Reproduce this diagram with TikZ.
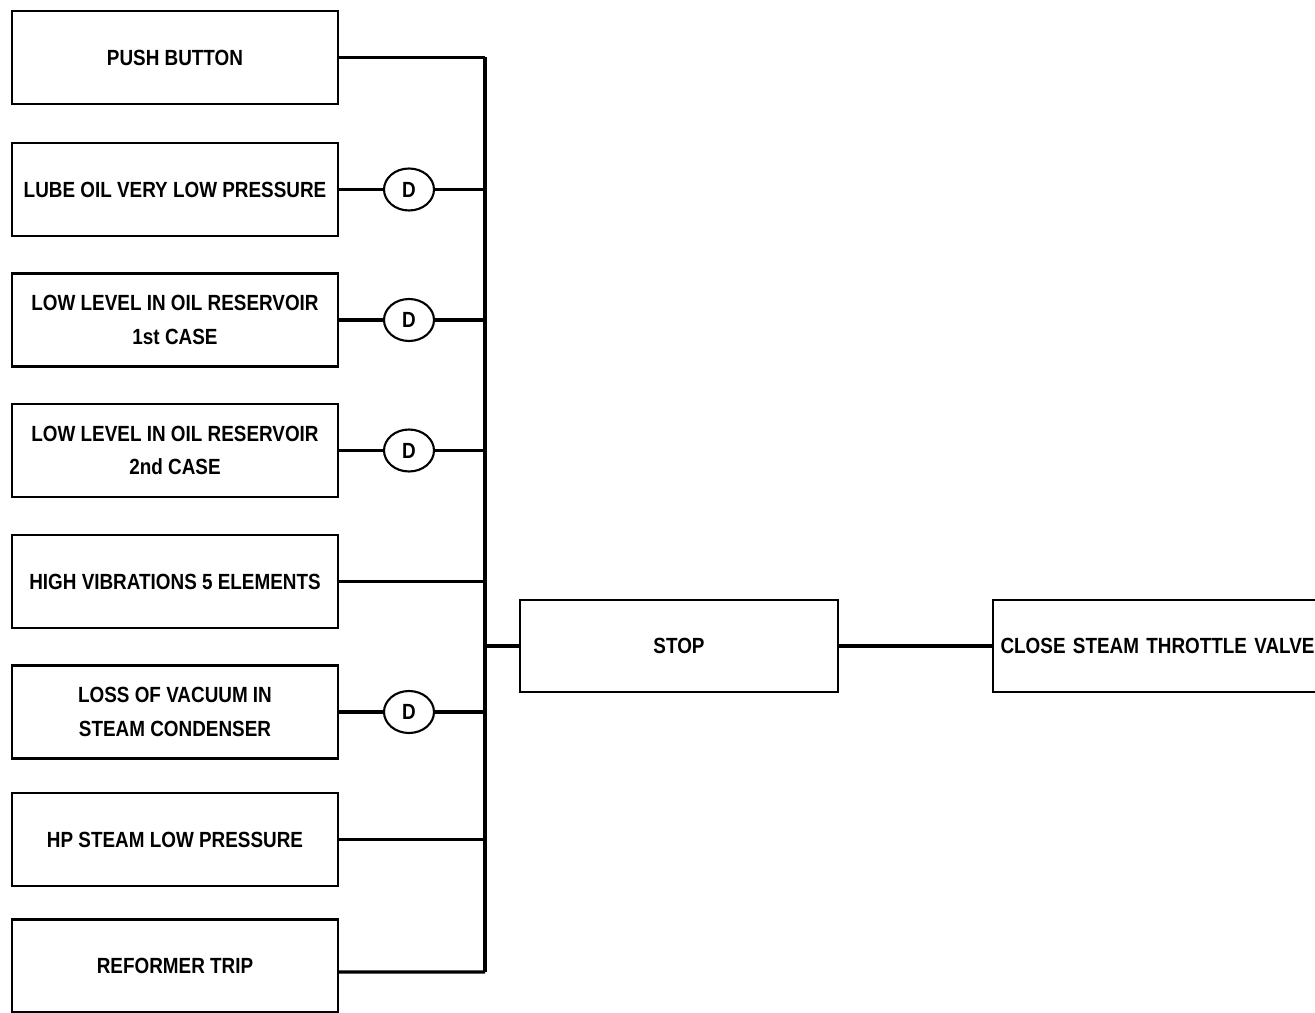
\documentclass[tikz,border=0pt]{standalone}
\usepackage{fontspec}
\usepackage{tikz}
\usetikzlibrary{positioning, shapes.geometric}
\newfontfamily\tripfont[FakeStretch=0.86]{Liberation Sans}

\begin{document}
\begin{tikzpicture}[x=0.02cm, y=-0.02cm,
  font=\tripfont\bfseries\fontsize{12.5}{19}\selectfont,
  box/.style={draw, line width=1.2pt, minimum width=6.52cm, minimum height=1.86cm, align=center, inner sep=0pt},
  delay/.style={draw, ellipse, line width=1.2pt, minimum width=1.0cm, minimum height=0.84cm, inner sep=0pt},
  wire/.style={line width=1.8pt}]

  \useasboundingbox (0,0) rectangle (1315,1013);

  % initiating signals
  \node[box] (pb) at (175,57.5) {PUSH BUTTON};
  \node[box] (lube) at (175,189.5) {LUBE OIL VERY LOW PRESSURE};
  \node[box] (res1) at (175,320) {LOW LEVEL IN OIL RESERVOIR\\1st CASE};
  \node[box] (res2) at (175,450.5) {LOW LEVEL IN OIL RESERVOIR\\2nd CASE};
  \node[box] (vib) at (175,581.5) {HIGH VIBRATIONS 5 ELEMENTS};
  \node[box] (vac) at (175,712) {LOSS OF VACUUM IN\\STEAM CONDENSER};
  \node[box] (hp) at (175,839.5) {HP STEAM LOW PRESSURE};
  \node[box] (ref) at (175,966) {REFORMER TRIP};

  % delays
  \node[delay] (d1) at (409,189.5) {D};
  \node[delay] (d2) at (409,320) {D};
  \node[delay] (d3) at (409,450.5) {D};
  \node[delay] (d4) at (409,712) {D};

  % result
  \node[box, minimum width=6.36cm, minimum height=1.84cm] (stop) at (679,646) {STOP};
  \node[box, minimum height=1.84cm, text width=6.8cm, inner xsep=0.15cm, align=left] (close) at (1170.5,646) {CLOSE STEAM THROTTLE VALVE};

  \coordinate (bustop) at (485,57.5);
  \coordinate (busbot) at (485,972);

  \draw[wire] (bustop) -- (busbot);
  \draw[wire] (pb.east) -- (pb.east -| bustop);
  \draw[wire] (lube.east) -- (d1.west);
  \draw[wire] (d1.east) -- (d1.east -| bustop);
  \draw[wire] (res1.east) -- (d2.west);
  \draw[wire] (d2.east) -- (d2.east -| bustop);
  \draw[wire] (res2.east) -- (d3.west);
  \draw[wire] (d3.east) -- (d3.east -| bustop);
  \draw[wire] (vib.east) -- (vib.east -| bustop);
  \draw[wire] (vac.east) -- (d4.west);
  \draw[wire] (d4.east) -- (d4.east -| bustop);
  \draw[wire] (hp.east) -- (hp.east -| bustop);
  \draw[wire] ([yshift=-0.12cm]ref.east) -- (busbot);
  \draw[wire] (stop.west -| bustop) -- (stop.west);
  \draw[wire] (stop.east) -- (close.west);
\end{tikzpicture}
\end{document}
